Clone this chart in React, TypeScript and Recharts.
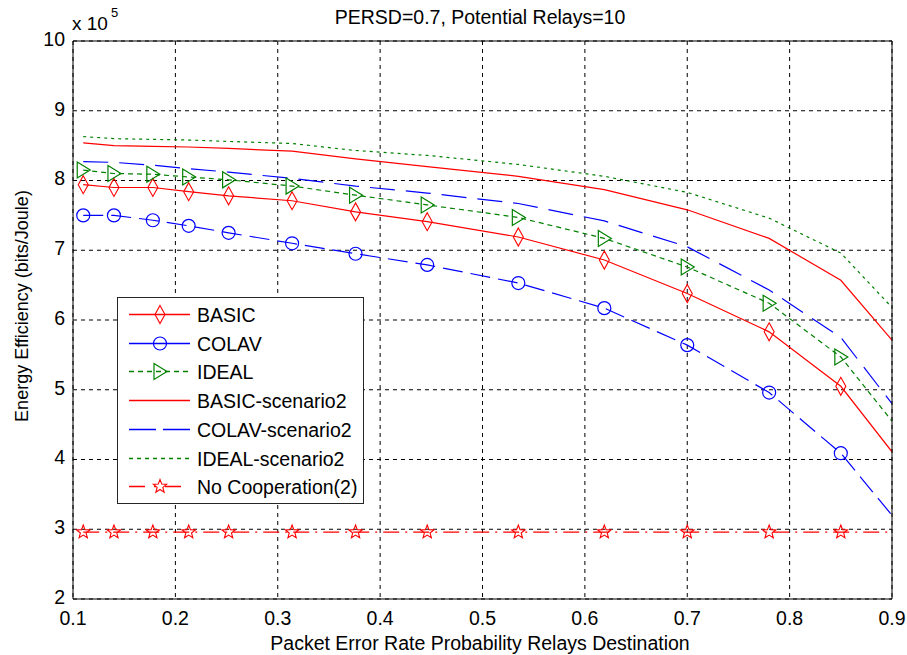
import React from "react";
import {
	CartesianGrid,
	Customized,
	Line,
	LineChart,
	XAxis,
	YAxis
} from "recharts";

const xValues = [0.11, 0.14, 0.178, 0.213, 0.252, 0.314, 0.376, 0.446, 0.535, 0.619, 0.7, 0.78, 0.85, 0.9];
const basic = [7.94, 7.9, 7.9, 7.84, 7.78, 7.71, 7.55, 7.41, 7.19, 6.86, 6.38, 5.83, 5.05, 4.11];
const colav = [7.5, 7.5, 7.43, 7.35, 7.25, 7.1, 6.95, 6.79, 6.53, 6.17, 5.64, 4.96, 4.09, 3.2];
const ideal = [8.15, 8.1, 8.09, 8.05, 8.01, 7.92, 7.79, 7.65, 7.47, 7.17, 6.76, 6.24, 5.47, 4.55];
const basicS2 = [8.54, 8.5, 8.49, 8.48, 8.46, 8.42, 8.31, 8.2, 8.06, 7.87, 7.58, 7.17, 6.57, 5.71];
const colavS2 = [8.27, 8.26, 8.22, 8.17, 8.12, 8.03, 7.92, 7.82, 7.67, 7.42, 7.05, 6.43, 5.75, 4.8];
const idealS2 = [8.63, 8.6, 8.59, 8.58, 8.56, 8.53, 8.43, 8.36, 8.23, 8.06, 7.83, 7.46, 6.96, 6.18];
const noCoop = [2.96, 2.96, 2.96, 2.96, 2.96, 2.96, 2.96, 2.96, 2.96, 2.96, 2.96, 2.96, 2.96, 2.96];

const xTicks = [0.1, 0.2, 0.3, 0.4, 0.5, 0.6, 0.7, 0.8, 0.9];
const yTicks = [2, 3, 4, 5, 6, 7, 8, 9, 10];

const rows = xValues.map((x, i) => ({
	x,
	basic: basic[i],
	colav: colav[i],
	ideal: ideal[i],
	basicS2: basicS2[i],
	colavS2: colavS2[i],
	idealS2: idealS2[i],
	noCoop: noCoop[i]
}));

const FONT = '"Liberation Sans", Arial, sans-serif';
const RED = "#ff0000";
const BLUE = "#0000ff";
const GREEN = "#008000";

type Marker = "diamond" | "circle" | "triangle" | "star" | null;

const drawMarker = (kind: Marker, cx: number, cy: number, color: string) => {
	if (kind === "diamond")
		return <path d={`M${cx},${cy - 9} L${cx + 5},${cy} L${cx},${cy + 9} L${cx - 5},${cy} Z`} fill="none" stroke={color} strokeWidth={1.1} />;
	if (kind === "circle") return <circle cx={cx} cy={cy} r={6.5} fill="none" stroke={color} strokeWidth={1.2} />;
	if (kind === "triangle")
		return <path d={`M${cx - 6},${cy - 8} L${cx + 7},${cy} L${cx - 6},${cy + 8} Z`} fill="none" stroke={color} strokeWidth={1.2} />;
	if (kind === "star") {
		const pts: string[] = [];
		for (let k = 0; k < 10; k++) {
			const r = k % 2 === 0 ? 7 : 3;
			const a = -Math.PI / 2 + (k * Math.PI) / 5;
			pts.push(`${cx + r * Math.cos(a)},${cy + r * Math.sin(a)}`);
		}
		return <polygon points={pts.join(" ")} fill="none" stroke={color} strokeWidth={1.1} />;
	}
	return null;
};

const series = [
	{ key: "basic", name: "BASIC", color: RED, dash: undefined, legendDash: undefined, marker: "diamond" as Marker },
	{ key: "colav", name: "COLAV", color: BLUE, dash: "20 8", legendDash: undefined, marker: "circle" as Marker },
	{ key: "ideal", name: "IDEAL", color: GREEN, dash: "5 4", legendDash: "5 4", marker: "triangle" as Marker },
	{ key: "basicS2", name: "BASIC-scenario2", color: RED, dash: undefined, legendDash: undefined, marker: null },
	{ key: "colavS2", name: "COLAV-scenario2", color: BLUE, dash: "25 11", legendDash: "27 7", marker: null },
	{ key: "idealS2", name: "IDEAL-scenario2", color: GREEN, dash: "3 4", legendDash: "4 4", marker: null },
	{ key: "noCoop", name: "No Cooperation(2)", color: RED, dash: "16 6 2 6", legendDash: "16 9 2 9", marker: "star" as Marker }
];

const Texts = () => (
	<g fontFamily={FONT} fill="#000">
		<text x={480} y={24} fontSize={19.5} textAnchor="middle">PERSD=0.7, Potential Relays=10</text>
		<text x={480} y={650} fontSize={19.5} textAnchor="middle">Packet Error Rate Probability Relays Destination</text>
		<text x={28} y={306} fontSize={18} textAnchor="middle" transform="rotate(-90 28 306)">Energy Efficiency (bits/Joule)</text>
		<text x={72} y={30} fontSize={19}>x 10</text>
		<text x={111} y={17} fontSize={13}>5</text>
	</g>
);

const Legend = () => (
	<div
		style={{
			position: "absolute",
			left: 117,
			top: 297,
			width: 245,
			height: 205,
			border: "1px solid #262626",
			background: "#fff"
		}}
	>
		<svg width={245} height={205}>
			{series.map((s, i) => {
				const y = Math.round(16 + i * 28.7) + 0.5;
				return (
					<g key={s.key}>
						<line x1={11} x2={72} y1={y} y2={y} stroke={s.color} strokeWidth={1.3} strokeDasharray={s.legendDash} />
						{drawMarker(s.marker, 42, y, s.color)}
						<text x={79} y={y + 7} fontFamily={FONT} fontSize={19.5} fill="#000">
							{s.name}
						</text>
					</g>
				);
			})}
		</svg>
	</div>
);

export default function App() {
	return (
		<div style={{ position: "absolute", left: 0, top: 0, width: 907, height: 655, background: "#fff" }}>
			<LineChart width={907} height={655} data={rows} margin={{ top: 41, right: 15, bottom: 0, left: 0 }}>
				<CartesianGrid stroke="#000" strokeDasharray="4 4" strokeWidth={1} />
				<XAxis
					type="number"
					dataKey="x"
					domain={[0.1, 0.9]}
					ticks={xTicks}
					allowDataOverflow
					height={56}
					tickLine={false}
					tickMargin={6}
					axisLine={{ stroke: "#000" }}
					tick={{ fill: "#000", fontSize: 19.5, fontFamily: FONT }}
					tickFormatter={(v: number) => String(v)}
				/>
				<XAxis xAxisId="bm" type="number" dataKey="x" domain={[0.1, 0.9]} ticks={xTicks} allowDataOverflow orientation="bottom" mirror tick={false} axisLine={false} tickLine={{ stroke: "#000" }} tickSize={6} />
				<XAxis xAxisId="top" type="number" dataKey="x" domain={[0.1, 0.9]} ticks={xTicks} allowDataOverflow orientation="top" mirror tick={false} axisLine={{ stroke: "#000" }} tickLine={{ stroke: "#000" }} tickSize={6} />
				<YAxis
					type="number"
					domain={[2, 10]}
					ticks={yTicks}
					allowDataOverflow
					width={73}
					tickLine={false}
					tickMargin={2}
					axisLine={{ stroke: "#000" }}
					tick={{ fill: "#000", fontSize: 19.5, fontFamily: FONT, dy: -2 }}
				/>
				<YAxis yAxisId="lm" type="number" domain={[2, 10]} ticks={yTicks} allowDataOverflow orientation="left" mirror tick={false} axisLine={false} tickLine={{ stroke: "#000" }} tickSize={6} />
				<YAxis yAxisId="right" type="number" domain={[2, 10]} ticks={yTicks} allowDataOverflow orientation="right" mirror tick={false} axisLine={{ stroke: "#000" }} tickLine={{ stroke: "#000" }} tickSize={6} />
				{series.map((s) => (
					<Line
						key={s.key}
						type="linear"
						dataKey={s.key}
						name={s.name}
						stroke={s.color}
						strokeWidth={1.2}
						strokeDasharray={s.dash}
						activeDot={false}
						isAnimationActive={false}
						dot={(p: any) =>
							s.marker && p.payload.x < 0.9 ? (
								<g key={`${s.key}-${p.index}`}>{drawMarker(s.marker, p.cx, p.cy, s.color)}</g>
							) : (
								<g key={`${s.key}-${p.index}`} />
							)
						}
					/>
				))}
				<Customized component={Texts} />
			</LineChart>
			<Legend />
		</div>
	);
}
